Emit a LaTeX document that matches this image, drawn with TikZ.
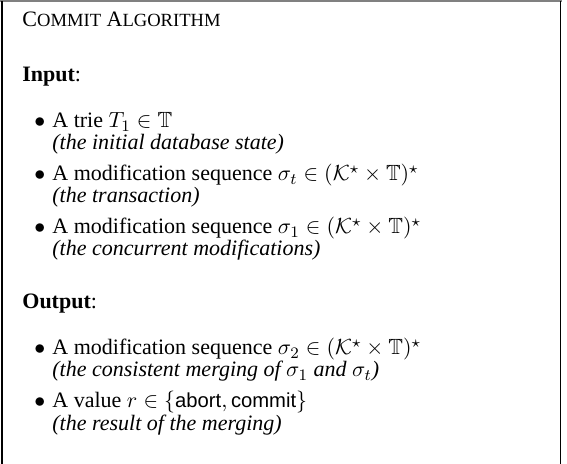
\documentclass[tikz,border=0pt]{standalone}
\usepackage{amssymb}
\usepackage{fontspec}
\setmainfont{Liberation Serif}
\setsansfont[Scale=0.92]{Liberation Sans}
\newcommand{\smcaps}[1]{{\fontsize{9.3}{9.3}\selectfont #1}}

\begin{document}
\begin{tikzpicture}[x=1pt,y=-1pt,
  txt/.style={anchor=base west,inner sep=0pt,font=\fontsize{11}{13}\selectfont},
  bul/.style={anchor=base west,inner sep=0pt,font=\fontsize{11}{13}\selectfont},
  note/.style={anchor=base west,inner sep=0pt,font=\fontsize{11}{13}\selectfont\itshape}]
\useasboundingbox (0,0) rectangle (283.5,232);
%外框
\draw[color=gray,line width=.8pt] (0,0.6) -- (281,0.6);
\draw[line width=.8pt] (0.9,0.6) -- (0.9,232) (280.2,0.6) -- (280.2,232);

\node[txt] (title) at (11,13.5) {C\smcaps{OMMIT} A\smcaps{LGORITHM}};

%輸入
\node[txt] (input) at (11,41) {\textbf{Input}:};
\node[bul] (b1) at (17,64) {$\bullet$};
\node[txt] (i1) at (26,64) {A trie $T_1\in\mathbb{T}$};
\node[note] (n1) at (26,75) {(the initial database state)};
\node[bul] (b2) at (17,90.5) {$\bullet$};
\node[txt] (i2) at (26,90.5) {A modification sequence $\sigma_t\in(\mathcal{K}^\star\times\mathbb{T})^\star$};
\node[note] (n2) at (26,101.5) {(the transaction)};
\node[bul] (b3) at (17,117) {$\bullet$};
\node[txt] (i3) at (26,117) {A modification sequence $\sigma_1\in(\mathcal{K}^\star\times\mathbb{T})^\star$};
\node[note] (n3) at (26,128) {(the concurrent modifications)};

%輸出
\node[txt] (output) at (11,154.5) {\textbf{Output}:};
\node[bul] (b4) at (17,177.5) {$\bullet$};
\node[txt] (i4) at (26,177.5) {A modification sequence $\sigma_2\in(\mathcal{K}^\star\times\mathbb{T})^\star$};
\node[note] (n4) at (26,188.5) {(the consistent merging of $\sigma_1$ and $\sigma_t$)};
\node[bul] (b5) at (17,204) {$\bullet$};
\node[txt] (i5) at (26,204) {A value $r\in\{\mathsf{abort},\mathsf{commit}\}$};
\node[note] (n5) at (26,215) {(the result of the merging)};
\end{tikzpicture}
\end{document}
